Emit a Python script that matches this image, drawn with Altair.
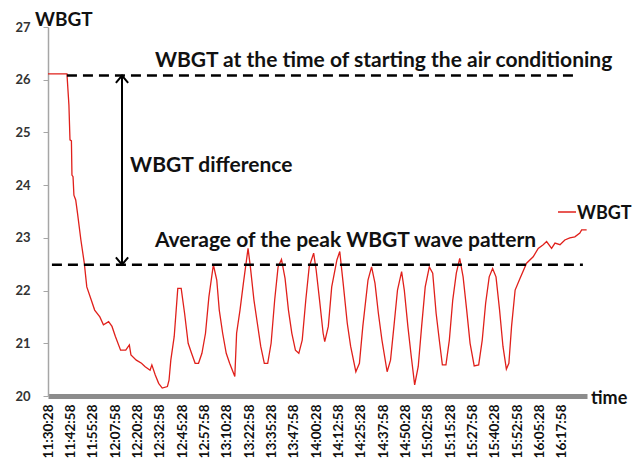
import altair as alt
import pandas as pd

# ---- data ----
minutes = [0, 10.6, 11.7, 12.3, 13.1, 13.4, 14.0, 14.5, 15.5, 16.5, 18.4, 20.3, 21.7, 24.2, 26.1,
           29.0, 31.0, 33.9, 35.8, 37.7, 40.6, 43.5, 45.5, 46.4, 49.4, 52.3, 54.2, 57.1, 58.1,
           60.0, 61.9, 63.9, 66.8, 67.7, 68.7, 70.6, 72.6, 74.5, 76.4, 78.4, 80.3, 82.3, 84.2,
           86.1, 88.1, 90.0, 92.5, 94.4, 95.8, 97.7, 99.7, 101.6, 104.5, 105.5, 107.4, 109.3,
           111.9, 113.2, 115.2, 117.1, 119.0, 121.0, 122.9, 124.8, 126.8, 128.7, 130.6, 132.6,
           134.5, 136.4, 138.4, 140.3, 142.2, 144.2, 146.1, 148.6, 150.0, 151.9, 153.9, 154.8,
           156.8, 158.7, 161.6, 163.2, 165.1, 167.4, 169.3, 172.2, 174.2, 176.1, 179.0, 181.0,
           182.9, 184.8, 186.8, 189.7, 191.6, 193.5, 195.5, 197.8, 199.3, 201.3, 203.2, 205.1,
           207.1, 209.0, 211.0, 213.3, 215.2, 217.1, 219.1, 220.6, 222.6, 224.5, 226.4, 228.4,
           230.3, 232.2, 234.2, 236.1, 238.4, 240.9, 242.9, 244.8, 246.8, 248.7, 250.6, 252.6,
           254.5, 256.4, 257.8, 259.3, 261.3, 264.0, 267.7, 271.4, 274.2, 277.0, 278.9, 281.7,
           283.6, 286.4, 289.1, 291.9, 294.7, 297.5, 298.5, 301.3]
wbgt = [26.11, 26.11, 25.52, 24.86, 24.84, 24.19, 24.16, 23.81, 23.72, 23.47, 22.96, 22.52, 22.07,
        21.82, 21.63, 21.50, 21.35, 21.41, 21.32, 21.13, 20.87, 20.87, 20.97, 20.78, 20.68, 20.62,
        20.56, 20.49, 20.59, 20.40, 20.24, 20.15, 20.18, 20.30, 20.68, 21.13, 22.04, 22.04, 21.57,
        21.00, 20.81, 20.62, 20.62, 20.81, 21.19, 21.88, 22.49, 22.20, 21.63, 21.19, 20.81, 20.62,
        20.37, 21.19, 21.63, 22.14, 22.80, 22.45, 21.82, 21.38, 20.94, 20.62, 20.62, 21.00, 21.82,
        22.45, 22.59, 22.23, 21.63, 21.19, 20.87, 20.81, 21.06, 21.82, 22.45, 22.71, 22.39, 21.82,
        21.19, 21.03, 21.32, 22.07, 22.58, 22.74, 22.14, 21.38, 20.94, 20.46, 20.62, 21.32, 22.20,
        22.45, 22.14, 21.57, 21.06, 20.46, 20.68, 21.32, 22.01, 22.36, 22.01, 21.32, 20.75, 20.21,
        20.56, 21.32, 22.07, 22.45, 22.33, 21.57, 21.00, 20.59, 20.59, 21.06, 21.82, 22.33, 22.61,
        22.26, 21.63, 21.00, 20.57, 20.59, 21.06, 21.76, 22.26, 22.42, 22.26, 21.63, 20.94, 20.51,
        20.62, 21.32, 22.01, 22.23, 22.52, 22.64, 22.80, 22.87, 22.93, 22.80, 22.90, 22.87, 22.96,
        23.00, 23.02, 23.09, 23.15, 23.15]

tick_labels = ["11:30:28", "11:42:58", "11:55:28", "12:07:58", "12:20:28", "12:32:58",
               "12:45:28", "12:57:58", "13:10:28", "13:22:58", "13:35:28", "13:47:58",
               "14:00:28", "14:12:58", "14:25:28", "14:37:58", "14:50:28", "15:02:58",
               "15:15:28", "15:27:58", "15:40:28", "15:52:58", "16:05:28", "16:17:58"]
tick_step = 12.5  # minutes between labels
tick_values = [i * tick_step for i in range(len(tick_labels))]
y_ticks = [20, 21, 22, 23, 24, 25, 26, 27]

start_level = 26.08   # WBGT when air conditioning started
peak_level = 22.49    # average of the peaks
arrow_minute = 41.4

ann_text = ["WBGT at the time of starting the air conditioning",
            "WBGT difference",
            "Average of the peak WBGT wave pattern"]
ann_x = [59.8, 45.9, 59.8]
ann_y = [26.24, 24.24, 22.82]

FONT = "Lato"
xs = alt.Scale(domain=[0, 301.5], nice=False, zero=False)
ys = alt.Scale(domain=[20, 27], nice=False, zero=False)

label_expr = "[" + ",".join("'%s'" % l for l in tick_labels) + "][round(datum.value/%s)]" % tick_step

xaxis = alt.Axis(
    values=tick_values, labelExpr=label_expr, labelAngle=-90, title=None,
    ticks=False, grid=False, domainColor="#8c8c8c", domainWidth=5,
    labelFont=FONT, labelFontWeight="bold", labelFontSize=13.5, labelColor="#111",
    labelPadding=8, labelOverlap=False, labelFlush=False)
yaxis = alt.Axis(
    values=y_ticks, format="d", title=None, grid=False,
    domainColor="#a6a6a6", domainWidth=1.5, tickColor="#a6a6a6", tickSize=5,
    labelFont=FONT, labelFontWeight="bold", labelFontSize=13, labelColor="#333",
    labelPadding=13, labelFlush=False, labelOverlap=False)


def X(field):
    return alt.X(field, scale=xs, axis=xaxis)


def Y(field):
    return alt.Y(field, scale=ys, axis=yaxis)


df = pd.DataFrame({"t": minutes, "wbgt": wbgt})
line = alt.Chart(df).mark_line(color="#e0201b", strokeWidth=1.3).encode(
    x=X("t:Q"), y=Y("wbgt:Q"))

levels = pd.DataFrame({"x": [10.6, 2.2], "x2": [296.4, 299.2], "y": [start_level, peak_level]})
dashes = alt.Chart(levels).mark_rule(color="black", strokeWidth=2.5, strokeDash=[10, 6]).encode(
    x=X("x:Q"), x2="x2:Q", y=Y("y:Q"))

arrow_df = pd.DataFrame({"x": [arrow_minute], "y": [start_level], "y2": [peak_level]})
shaft = alt.Chart(arrow_df).mark_rule(color="black", strokeWidth=2).encode(
    x=X("x:Q"), y=Y("y:Q"), y2="y2:Q")

head_up = alt.Chart(arrow_df).mark_point(
    shape="M-1,1.2L0,0L1,1.2", filled=False, size=150, strokeWidth=2, color="black", opacity=1
).encode(x=X("x:Q"), y=Y("y:Q"))
head_down = alt.Chart(arrow_df).mark_point(
    shape="M-1,-1.2L0,0L1,-1.2", filled=False, size=150, strokeWidth=2, color="black", opacity=1
).encode(x=X("x:Q"), y=Y("y2:Q"))

ann_df = pd.DataFrame({"x": ann_x, "y": ann_y, "text": ann_text})
ann = alt.Chart(ann_df).mark_text(
    font=FONT, fontWeight="bold", fontSize=21, align="left", baseline="alphabetic", color="#111"
).encode(x=X("x:Q"), y=Y("y:Q"), text="text:N")


# outside-plot texts (pixel positions relative to the plot origin)
def label(txt, x, y, size):
    return alt.Chart(pd.DataFrame({"t": [txt]})).mark_text(
        font=FONT, fontWeight="bold", fontSize=size, align="left", baseline="alphabetic",
        color="#111").encode(x=alt.value(x), y=alt.value(y), text="t:N")


ytitle = label("WBGT", -13, -1, 19)
xtitle = label("time", 543, 377, 18)
legend_txt = label("WBGT", 529, 192, 18)
legend_line = alt.Chart(pd.DataFrame({"a": [0]})).mark_rule(color="#e0201b", strokeWidth=1.5).encode(
    x=alt.value(510), x2=alt.value(528), y=alt.value(185))

chart = alt.layer(line, dashes, shaft, head_up, head_down, ann, ytitle, xtitle, legend_line,
                  legend_txt).properties(
    width=539, height=369,
    autosize=alt.AutoSizeParams(type="none"),
    padding={"left": 48, "top": 27, "right": 47, "bottom": 74},
    background="white",
).configure_view(stroke=None)

chart.save("out.html", embed_options={"renderer": "svg", "actions": False})
